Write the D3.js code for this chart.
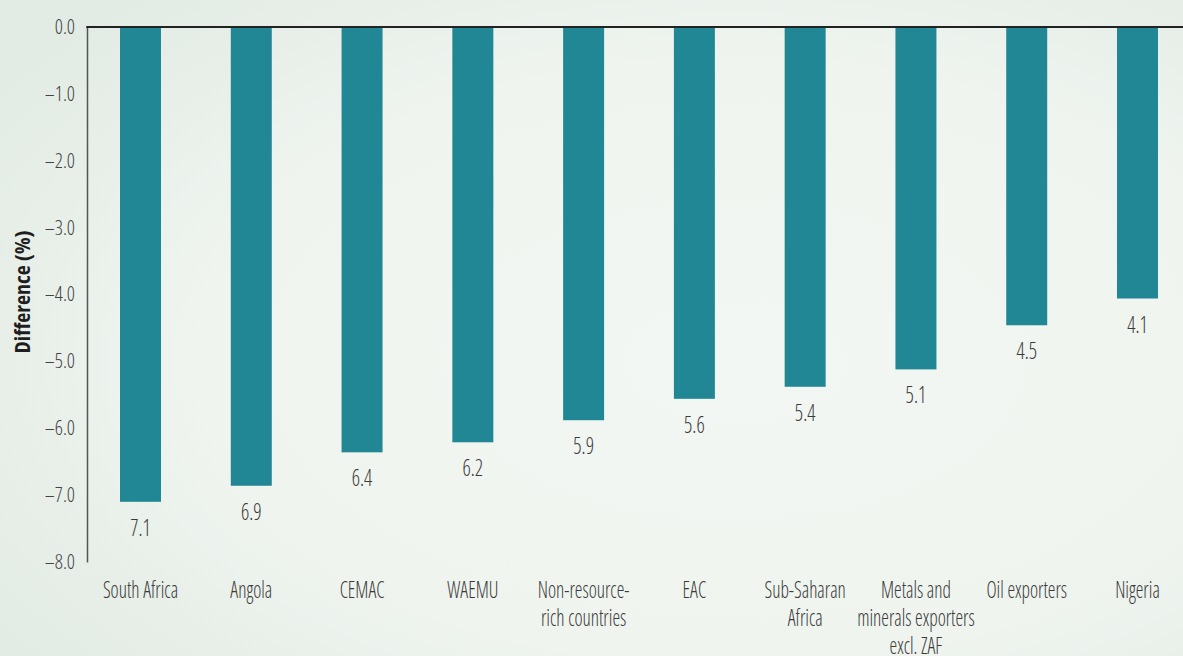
<!DOCTYPE html>
<html>
<head>
<meta charset="utf-8">
<script src="https://cdn.jsdelivr.net/npm/d3@7"></script>
<style>
  html, body { margin: 0; padding: 0; }
  body { width: 1183px; height: 656px; overflow: hidden; }
  svg { display: block; }
  text { font-family: "Open Sans", "Roboto", sans-serif; font-stretch: condensed; }
</style>
</head>
<body>
<svg id="chart" width="1183" height="656"></svg>
<script>
// Categories, values (percentage-point difference) and tick labels
const categories = [
  ["South Africa"],
  ["Angola"],
  ["CEMAC"],
  ["WAEMU"],
  ["Non-resource-", "rich countries"],
  ["EAC"],
  ["Sub-Saharan", "Africa"],
  ["Metals and", "minerals exporters", "excl. ZAF"],
  ["Oil exporters"],
  ["Nigeria"]
];
const values = [-7.10, -6.86, -6.36, -6.21, -5.88, -5.56, -5.38, -5.12, -4.46, -4.06];
const yTicks = [0, -1, -2, -3, -4, -5, -6, -7, -8];
const yTitle = "Difference (%)";

const W = 1183, H = 656;
const svg = d3.select("#chart");

// Soft green backdrop
const defs = svg.append("defs");
const bg = defs.append("radialGradient").attr("id", "bg")
  .attr("cx", "62%").attr("cy", "55%").attr("r", "75%");
bg.append("stop").attr("offset", "0%").attr("stop-color", "#f3f7f3");
bg.append("stop").attr("offset", "60%").attr("stop-color", "#eff4ef");
bg.append("stop").attr("offset", "100%").attr("stop-color", "#e2ebe4");
svg.append("rect").attr("width", W).attr("height", H).attr("fill", "url(#bg)");

const x0 = 87, yTop = 27, yBot = 562;
const x = d3.scaleBand()
  .domain(d3.range(categories.length))
  .range([x0, 1191])
  .paddingInner(0.63)
  .paddingOuter(0.298);
const y = d3.scaleLinear().domain([0, -8]).range([yTop, yBot]);

const fmtTick = v => (v < 0 ? "\u2013" : "") + d3.format(".1f")(Math.abs(v));
const fmtVal = v => d3.format(".1f")(Math.abs(v));
const cx = i => x(i) + x.bandwidth() / 2;

// Bars
svg.append("g").selectAll("rect").data(values).join("rect")
  .attr("x", (d, i) => x(i))
  .attr("width", x.bandwidth())
  .attr("y", y(0))
  .attr("height", d => y(d) - y(0))
  .attr("fill", "#228795");

// Value labels under each bar (narrowed horizontally)
svg.append("g").selectAll("text").data(values).join("text")
  .attr("transform", (d, i) => `translate(${cx(i)},${y(d) + 34}) scale(0.85,1)`)
  .attr("text-anchor", "middle")
  .attr("font-size", 24)
  .attr("font-weight", 300)
  .attr("fill", "#3a3a3a")
  .text(fmtVal);

// Y axis
const yAxis = d3.axisLeft(y).tickValues(yTicks).tickSize(0).tickPadding(12).tickFormat(fmtTick);
const gy = svg.append("g").attr("transform", `translate(${x0},0)`).call(yAxis);
gy.attr("font-family", null).attr("font-size", null);
gy.select(".domain").attr("stroke", "#555").attr("stroke-width", 1.5);
gy.selectAll("text").attr("font-size", 20).attr("font-weight", 300).attr("fill", "#444");

// Zero line across the plot
svg.append("line")
  .attr("x1", x0 - 0.75).attr("x2", W)
  .attr("y1", y(0)).attr("y2", y(0))
  .attr("stroke", "#222").attr("stroke-width", 2);

// Category labels
const cat = svg.append("g").selectAll("text").data(categories).join("text")
  .attr("transform", (d, i) => `translate(${cx(i)},598) scale(0.84,1)`)
  .attr("text-anchor", "middle")
  .attr("font-size", 23)
  .attr("font-weight", 300)
  .attr("fill", "#3a3a3a");
cat.selectAll("tspan").data(d => d).join("tspan")
  .attr("x", 0)
  .attr("dy", (d, j) => j === 0 ? 0 : 28)
  .text(d => d);

// Y axis title
svg.append("text")
  .attr("transform", `translate(30,${292}) rotate(-90)`)
  .attr("text-anchor", "middle")
  .attr("font-size", 22)
  .attr("font-weight", "bold")
  .style("font-stretch", "semi-condensed")
  .attr("fill", "#1e1e1e")
  .text(yTitle);
</script>
</body>
</html>
